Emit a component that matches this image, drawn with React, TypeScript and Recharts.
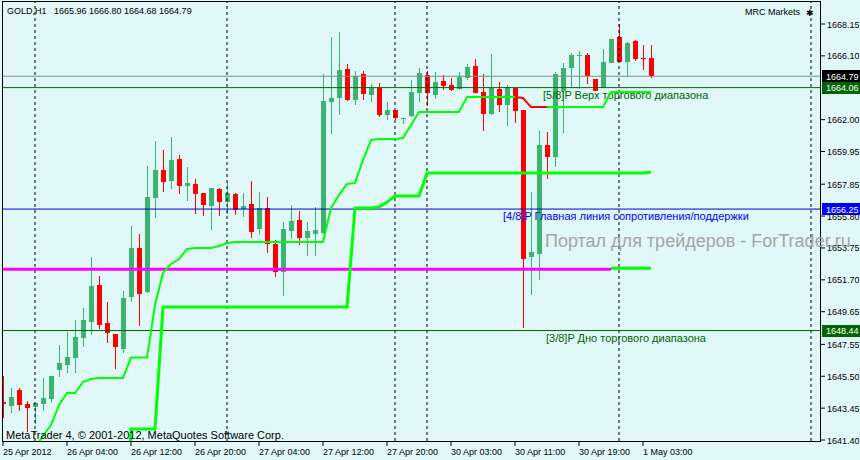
import React from 'react';
import { ComposedChart, Bar, Line, XAxis, YAxis, ReferenceLine } from 'recharts';

const FONT = '"Liberation Sans", Arial, sans-serif';

// ---- data (GOLD, H1) ----
const opens = [
  1643.84, 1643.60, 1644.61, 1643.71, 1643.54, 1643.71, 1644.06, 1645.90, 1646.22, 1646.65,
  1647.98, 1648.99, 1651.37, 1648.92, 1648.23, 1647.25, 1650.61, 1653.75, 1650.94, 1656.98,
  1658.76, 1658.07, 1659.47, 1657.75, 1657.86, 1657.28, 1656.47, 1657.54, 1656.72, 1657.22,
  1656.27, 1656.59, 1654.99, 1656.34, 1654.00, 1652.22, 1654.84, 1655.55, 1654.39, 1654.65,
  1654.71, 1663.15, 1663.39, 1665.26, 1663.26, 1664.93, 1663.58, 1664.03, 1662.30, 1662.62,
  1662.04, 1662.23, 1663.73, 1664.87, 1663.58, 1664.48, 1664.23, 1663.97, 1664.68, 1665.45,
  1663.78, 1662.36, 1663.97, 1662.94, 1664.03, 1662.62, 1653.17, 1653.36, 1660.37, 1659.62,
  1663.86, 1665.34, 1666.12, 1666.16, 1664.59, 1664.02, 1665.66, 1667.33, 1665.71, 1667.08,
  1665.96, 1665.96,
];
const highs = [
  1645.51, 1644.74, 1644.74, 1643.93, 1643.76, 1645.39, 1645.51, 1647.51, 1648.36, 1649.12,
  1649.87, 1653.19, 1651.95, 1650.27, 1648.23, 1650.98, 1655.16, 1654.65, 1659.04, 1660.63,
  1660.05, 1660.88, 1659.73, 1658.97, 1658.18, 1657.28, 1657.62, 1657.62, 1657.94, 1657.28,
  1657.28, 1658.05, 1657.37, 1657.04, 1654.26, 1655.42, 1656.51, 1656.13, 1655.42, 1656.38,
  1664.93, 1667.31, 1667.64, 1665.58, 1665.13, 1665.13, 1664.29, 1664.36, 1663.13, 1662.62,
  1662.11, 1664.55, 1665.34, 1665.13, 1665.06, 1664.87, 1664.68, 1665.06, 1665.58, 1665.90,
  1664.93, 1666.22, 1664.42, 1664.23, 1664.03, 1662.62, 1657.35, 1661.27, 1661.21, 1665.06,
  1665.62, 1666.30, 1666.41, 1666.30, 1664.59, 1666.52, 1667.19, 1668.15, 1667.01, 1667.14,
  1666.80, 1666.80,
];
const lows = [
  1642.81, 1643.14, 1643.26, 1641.93, 1642.43, 1643.26, 1643.80, 1645.47, 1645.73, 1645.73,
  1647.40, 1648.15, 1648.54, 1647.66, 1645.96, 1646.97, 1650.25, 1648.73, 1650.85, 1655.69,
  1657.37, 1657.56, 1657.24, 1656.79, 1655.95, 1655.82, 1654.92, 1655.82, 1655.95, 1655.89,
  1655.76, 1654.41, 1654.60, 1653.44, 1651.90, 1650.66, 1654.32, 1653.94, 1653.23, 1653.23,
  1654.65, 1661.08, 1662.30, 1663.20, 1662.94, 1663.26, 1663.13, 1662.17, 1661.98, 1661.98,
  1661.72, 1662.17, 1663.15, 1662.88, 1663.33, 1663.91, 1663.84, 1663.91, 1664.55, 1663.71,
  1661.27, 1662.30, 1662.49, 1661.59, 1661.78, 1648.60, 1650.72, 1651.69, 1658.18, 1658.95,
  1661.16, 1664.12, 1663.97, 1664.29, 1663.86, 1664.02, 1665.66, 1665.71, 1664.74, 1665.77,
  1665.19, 1664.68,
];
const closes = [
  1643.71, 1644.16, 1643.65, 1643.48, 1643.76, 1644.10, 1645.51, 1646.37, 1646.76, 1648.04,
  1649.12, 1651.30, 1648.79, 1648.30, 1647.40, 1650.53, 1653.77, 1650.79, 1657.04, 1658.76,
  1658.01, 1659.40, 1657.75, 1657.94, 1657.24, 1656.53, 1657.62, 1656.72, 1657.28, 1656.21,
  1656.47, 1654.79, 1656.34, 1654.02, 1652.22, 1654.97, 1655.48, 1654.39, 1654.84, 1654.90,
  1663.20, 1663.39, 1665.19, 1663.26, 1664.81, 1663.65, 1664.02, 1662.30, 1662.62, 1662.11,
  1662.11, 1663.78, 1665.02, 1663.69, 1664.42, 1664.16, 1663.91, 1664.74, 1665.38, 1663.71,
  1662.36, 1664.03, 1662.94, 1664.10, 1662.56, 1653.04, 1653.49, 1660.37, 1659.62, 1664.93,
  1665.30, 1666.16, 1666.16, 1664.81, 1663.86, 1665.71, 1667.19, 1665.71, 1666.95, 1665.90,
  1665.88, 1664.79,
];

const N = null;
// thin stepped band (green) and its red segment
const thinBand = [
  N, N, N, N, 1640.88, 1641.66, 1642.36, 1643.65, 1644.42, 1644.42,
  1645.13, 1645.32, 1645.39, 1645.39, 1645.39, 1645.39, 1646.70, 1646.70, 1646.70, 1650.08,
  1652.14, 1652.72, 1653.04, 1653.68, 1653.75, 1653.75, 1653.75, 1653.87, 1654.07, 1654.13,
  1654.13, 1654.13, 1654.13, 1654.13, 1654.13, 1654.13, 1654.13, 1654.13, 1654.13, 1654.13,
  1654.13, 1656.32, 1657.15, 1657.86, 1657.93, 1659.40, 1660.69, 1660.75, 1660.75, 1660.75,
  1660.82, 1661.66, 1662.49, 1662.49, 1662.49, 1662.49, 1662.49, 1662.49, 1663.46, 1663.46,
  1663.46, 1663.46, 1663.46, 1663.46, 1663.46, N, N, N, 1662.81, 1662.81,
  1662.81, 1662.81, 1662.81, 1662.81, 1662.81, 1662.81, 1663.78, 1663.78, 1663.78, 1663.78,
  1663.78, 1663.78,
];
const redBand = [
  N, N, N, N, N, N, N, N, N, N, N, N, N, N, N, N, N, N, N, N,
  N, N, N, N, N, N, N, N, N, N, N, N, N, N, N, N, N, N, N, N,
  N, N, N, N, N, N, N, N, N, N, N, N, N, N, N, N, N, N, N, N,
  N, N, N, N, 1663.46, 1663.39, 1662.81, 1662.81, 1662.81, N,
  N, N, N, N, N, N, N, N, N, N, N, N,
];
// thick stepped band
const thickBand = [
  N, N, N, N, N, N, N, N, N, N,
  N, N, N, N, N, 1630.00, 1642.11, 1642.11, 1642.11, 1642.11,
  1649.95, 1649.95, 1649.95, 1649.95, 1649.95, 1649.95, 1649.95, 1649.95, 1649.95, 1649.95,
  1649.95, 1649.95, 1649.95, 1649.95, 1649.95, 1649.95, 1649.95, 1649.95, 1649.95, 1649.95,
  1649.95, 1649.95, 1649.95, 1649.95, 1656.32, 1656.32, 1656.32, 1656.38, 1656.70, 1657.09,
  1657.09, 1657.09, 1657.09, 1658.57, 1658.57, 1658.57, 1658.57, 1658.57, 1658.57, 1658.57,
  1658.57, 1658.57, 1658.57, 1658.57, 1658.57, 1658.57, 1658.57, 1658.57, 1658.57, 1658.57,
  1658.57, 1658.57, 1658.57, 1658.57, 1658.57, 1658.57, 1658.57, 1658.57, 1658.57, 1658.57,
  1658.57, 1658.63,
];
const pivotLevel = 1652.38;
const pivotTailLevel = 1652.44;
const pivotEndIndex = 76;

const levelPrices = [1664.06, 1656.25, 1648.44];
const levelTexts = [
  '[5/8]P Верх торгового диапазона',
  '[4/8]P Главная линия сопротивления/поддержки',
  '[3/8]P Дно торгового диапазона',
];

const xTickIndex = [0, 8, 16, 24, 32, 40, 48, 56, 64, 72, 80];
const xTickLabels = [
  '25 Apr 2012', '26 Apr 04:00', '26 Apr 12:00', '26 Apr 20:00', '27 Apr 04:00',
  '27 Apr 12:00', '27 Apr 20:00', '30 Apr 03:00', '30 Apr 11:00', '30 Apr 19:00', '1 May 03:00',
];
const yTicks = [
  1641.40, 1643.45, 1645.50, 1647.55, 1649.65, 1651.70, 1653.75, 1655.80,
  1657.85, 1659.95, 1662.00, 1666.10, 1668.15,
];
const separators = [4, 28, 49, 53, 77, 101];

const last = closes.length - 1;

const data = opens.map((o, i) => ({
  i,
  range: [lows[i], highs[i]],
  o,
  h: highs[i],
  l: lows[i],
  c: closes[i],
  thin: thinBand[i],
  red: redBand[i],
  thick: thickBand[i],
  pivot: i <= pivotEndIndex ? pivotLevel : null,
  pivotTail: i >= pivotEndIndex ? pivotTailLevel : null,
}));

// ---- styles ----
const BG = '#E0F8F8';
const UP = '#3CB371';
const DOWN = '#FF0000';
const DKGREEN = '#006400';
const BLUE = '#0000FF';

const Candle = (props: any) => {
  const { x, y, width, height, payload } = props;
  if (x == null || y == null || !payload) return null;
  const top0 = Math.min(y, y + height);
  const ht = Math.abs(height);
  const cx = Math.round(x + width / 2);
  const { o, c, h, l } = payload;
  const color = c >= o ? UP : DOWN;
  const span = h - l || 1;
  const toY = (v: number) => top0 + ((h - v) / span) * ht;
  const t = Math.round(toY(Math.max(o, c)));
  const b = Math.max(Math.round(toY(Math.min(o, c))), t + 1);
  const wt = Math.round(top0);
  const wb = Math.max(Math.round(top0 + ht), wt + 1);
  return (
    <g>
      <rect x={cx} y={wt} width={1} height={wb - wt} fill={color} />
      <rect x={cx - 2} y={t} width={5} height={b - t} fill={color} />
    </g>
  );
};

const XTick = (props: any) => {
  const { x, y, payload } = props;
  const idx = xTickIndex.indexOf(payload.value);
  return (
    <text x={Math.round(x)} y={y + 7} textAnchor="start" fontFamily={FONT} fontSize={9} fill="#000">
      {idx >= 0 ? xTickLabels[idx] : ''}
    </text>
  );
};

const YTick = (props: any) => {
  const { x, y, payload } = props;
  return (
    <text x={x} y={y + 3.5} textAnchor="start" fontFamily={FONT} fontSize={9} fill="#000">
      {Number(payload.value).toFixed(2)}
    </text>
  );
};

const priceTag = (price: number, boxColor: string, text?: string, textDx?: number, textColor?: string) =>
  (props: any) => {
    const vb = props.viewBox || {};
    const ly = vb.y;
    const right = vb.x + vb.width;
    return (
      <g>
        {text ? (
          <text x={vb.x + (textDx || 0)} y={ly + 11} fontFamily={FONT} fontSize={11} fill={textColor}>
            {text}
          </text>
        ) : null}
        <rect x={right + 2} y={Math.round(ly) - 6} width={40} height={12} fill={boxColor} />
        <text x={right + 6} y={ly + 3.5} fontFamily={FONT} fontSize={9} fill="#FFFFFF">
          {price.toFixed(2)}
        </text>
      </g>
    );
  };

export default function App() {
  return (
    <div style={{ position: 'absolute', left: 0, top: 0, width: 860, height: 460, background: BG, overflow: 'hidden' }}>
      <ComposedChart
        width={860}
        height={460}
        data={data}
        margin={{ top: 2, right: 0, bottom: 0, left: 2 }}
      >
        <XAxis
          type="number"
          dataKey="i"
          domain={[-0.125, 102.125]}
          allowDataOverflow
          ticks={xTickIndex}
          interval={0}
          height={19}
          axisLine={false}
          tickLine={{ stroke: '#000' }}
          tickSize={5}
          tickMargin={2}
          tick={<XTick />}
        />
        <YAxis
          orientation="right"
          type="number"
          domain={[1641.337, 1669.565]}
          allowDataOverflow
          ticks={yTicks}
          interval={0}
          width={40}
          axisLine={false}
          tickLine={{ stroke: '#000' }}
          tickSize={5}
          tickMargin={2}
          tick={<YTick />}
        />
        {separators.map((s) => (
          <ReferenceLine key={'sep' + s} x={s} stroke="#000" strokeDasharray="3 3" strokeWidth={1} />
        ))}
        <ReferenceLine y={closes[last]} stroke="#7F8F8F" strokeWidth={1} label={priceTag(closes[last], '#000000')} />
        <ReferenceLine
          y={levelPrices[0]}
          stroke={DKGREEN}
          strokeWidth={1}
          label={priceTag(levelPrices[0], DKGREEN, levelTexts[0], 541, DKGREEN)}
        />
        <ReferenceLine
          y={levelPrices[1]}
          stroke="#0000CD"
          strokeWidth={1}
          label={priceTag(levelPrices[1], BLUE, levelTexts[1], 501, BLUE)}
        />
        <ReferenceLine
          y={levelPrices[2]}
          stroke={DKGREEN}
          strokeWidth={1}
          label={priceTag(levelPrices[2], DKGREEN, levelTexts[2], 544, DKGREEN)}
        />
        <Line dataKey="pivot" stroke="#FF00FF" strokeWidth={3} dot={false} isAnimationActive={false} connectNulls={false} type="linear" />
        <Line dataKey="pivotTail" stroke="#00FF00" strokeWidth={3} dot={false} isAnimationActive={false} connectNulls={false} type="linear" />
        <Line dataKey="thick" stroke="#00FF00" strokeWidth={3} dot={false} isAnimationActive={false} connectNulls={false} type="linear" />
        <Line dataKey="thin" stroke="#00FF00" strokeWidth={2} dot={false} isAnimationActive={false} connectNulls={false} type="linear" />
        <Line dataKey="red" stroke="#FF0000" strokeWidth={2} dot={false} isAnimationActive={false} connectNulls={false} type="linear" />
        <Bar dataKey="range" barSize={8} shape={<Candle />} isAnimationActive={false} />
      </ComposedChart>
      <div
        style={{
          position: 'absolute', left: 2, top: 1, width: 819, height: 441,
          boxSizing: 'border-box', border: '1px solid #000', pointerEvents: 'none',
        }}
      />
      <svg width={860} height={460} style={{ position: 'absolute', left: 0, top: 0, pointerEvents: 'none' }}>
        <text x={7} y={14} fontFamily={FONT} fontSize={9} fill="#000">GOLD,H1</text>
        <text x={54} y={14} fontFamily={FONT} fontSize={9} fill="#000">
          {[opens[last], highs[last], lows[last], closes[last]].map((v) => v.toFixed(2)).join(' ')}
        </text>
        <text x={745} y={15} fontFamily={FONT} fontSize={9} fill="#000">MRC Markets</text>
        <text x={806} y={16} fontFamily='"DejaVu Sans", sans-serif' fontSize={9} fill="#000">✱</text>
        <text x={545} y={246.5} fontFamily={FONT} fontSize={18} fill="#A9A4A4">Портал для трейдеров - ForTrader.ru</text>
        <text x={6} y={438.5} fontFamily={FONT} fontSize={11} fill="#000">MetaTrader 4, © 2001-2012, MetaQuotes Software Corp.</text>
      </svg>
    </div>
  );
}
